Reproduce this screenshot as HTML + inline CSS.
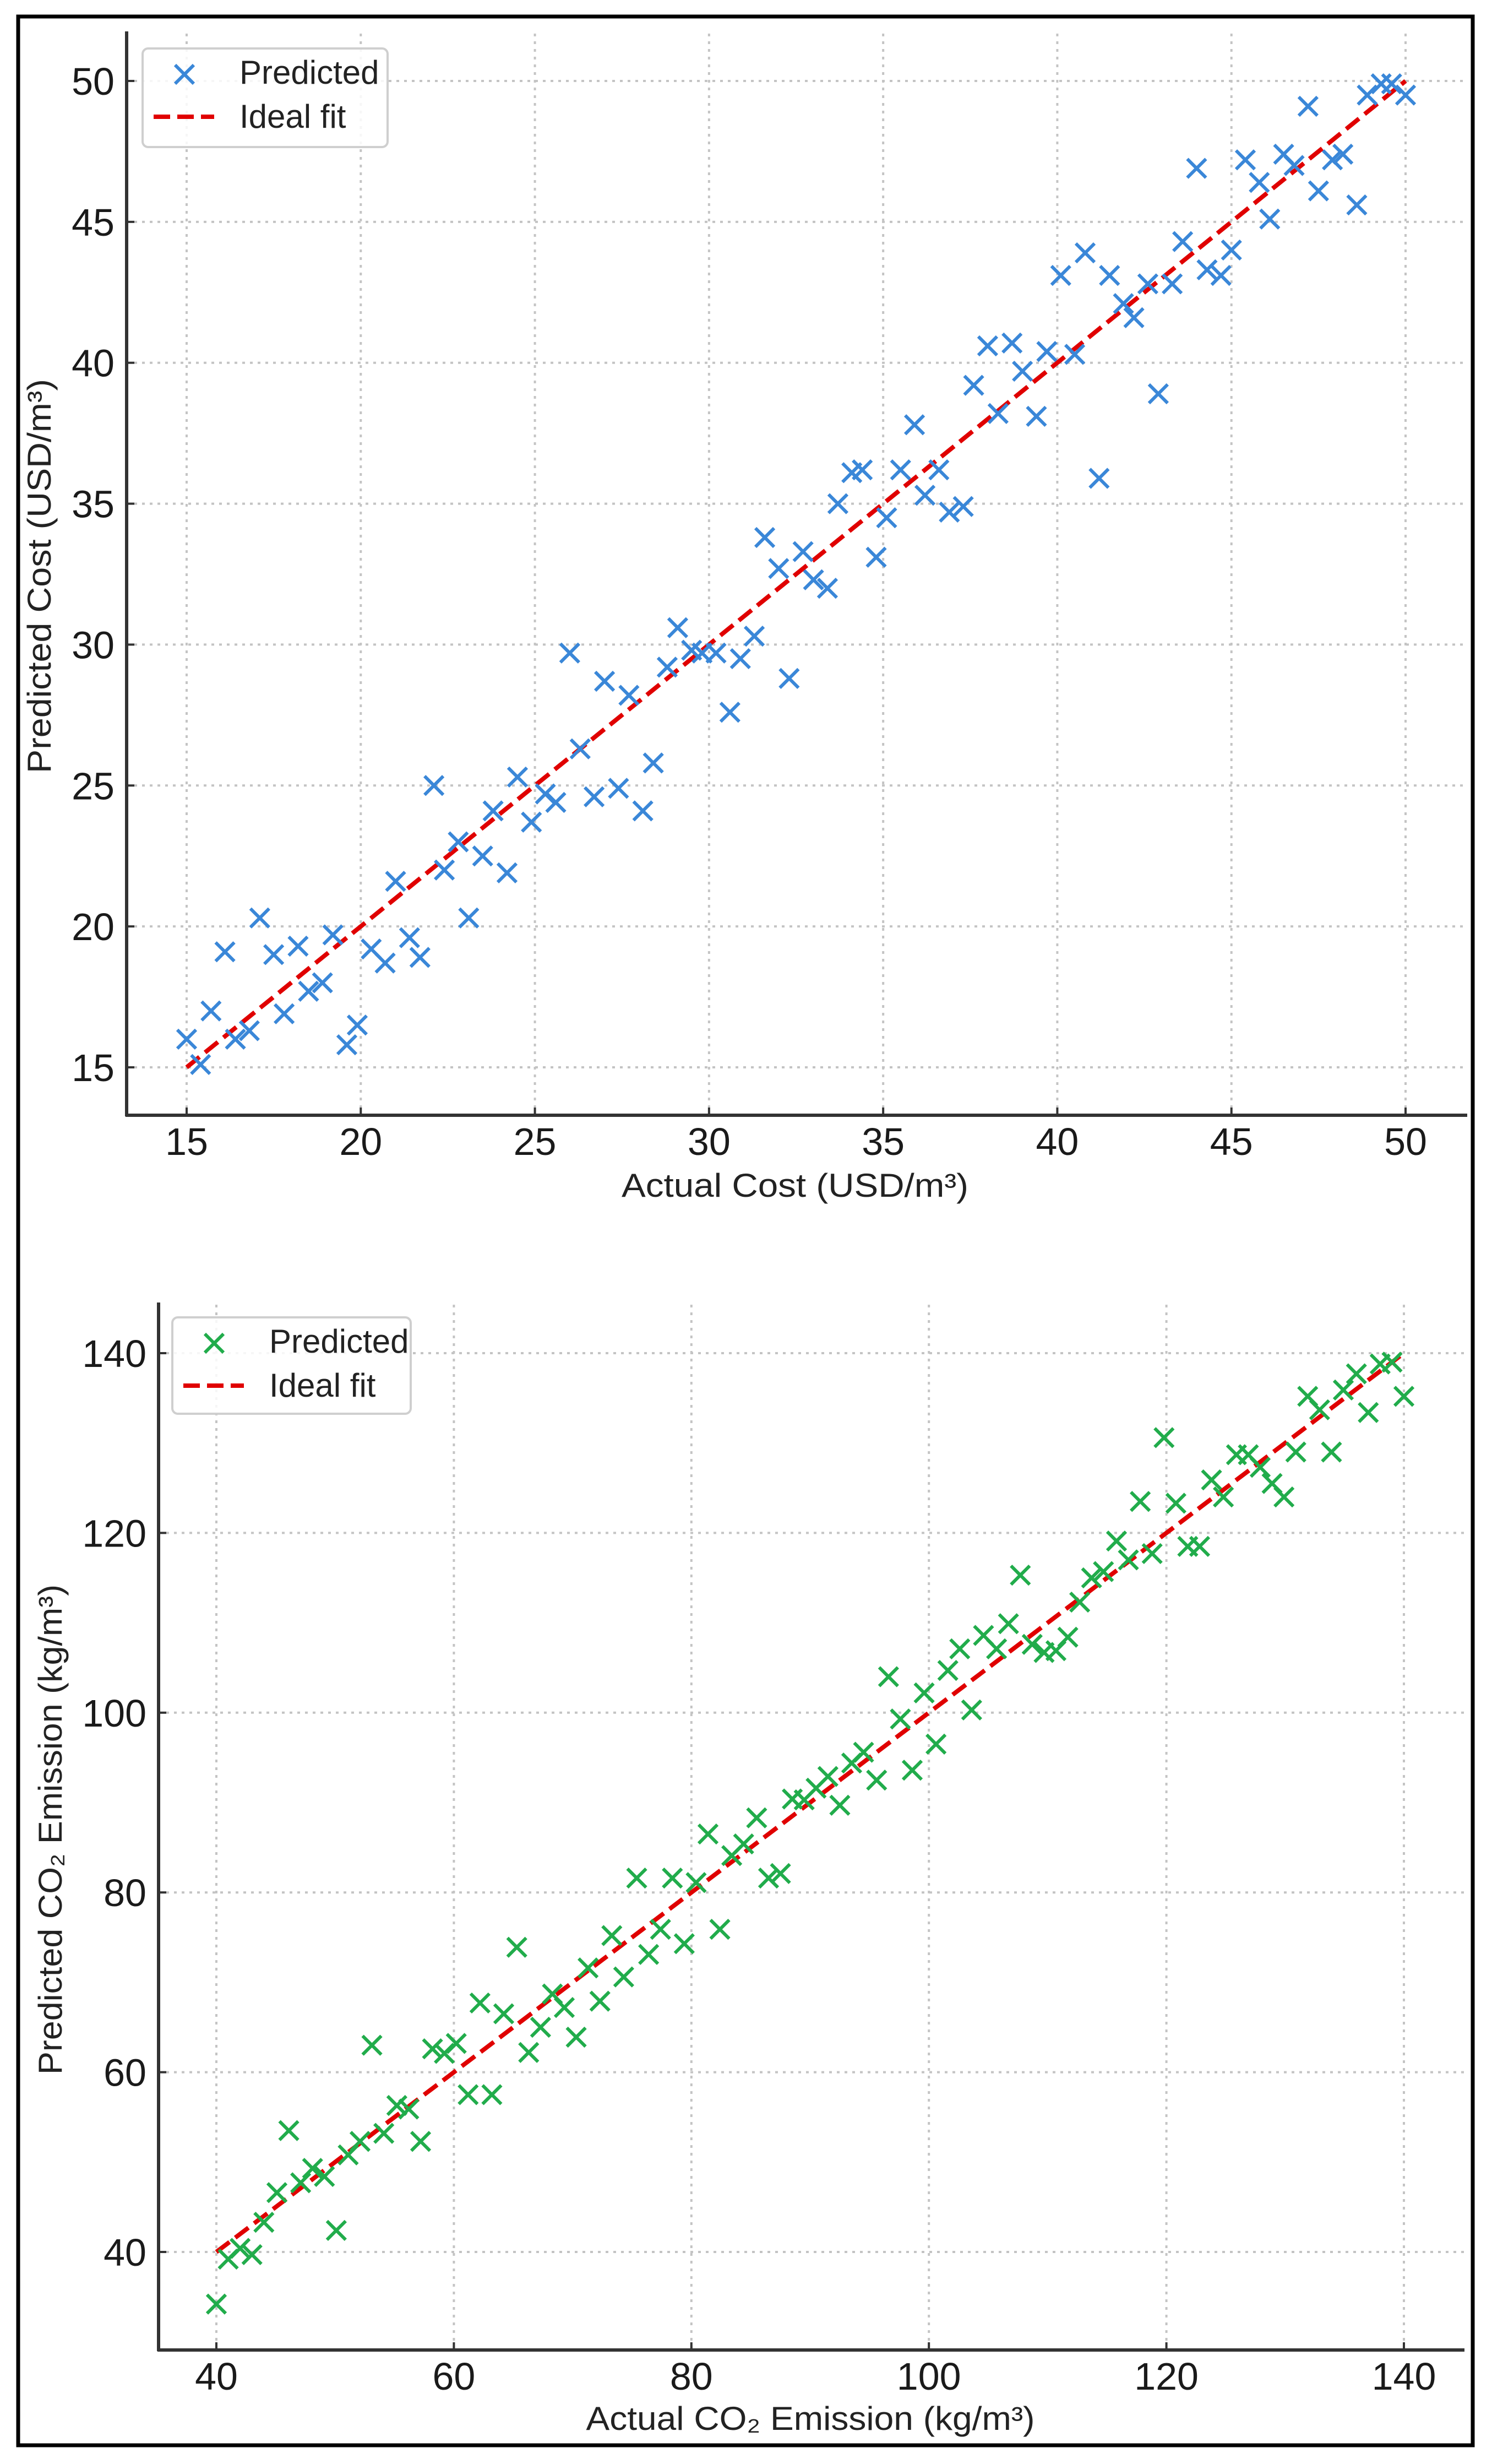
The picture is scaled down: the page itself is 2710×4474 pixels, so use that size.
<!DOCTYPE html>
<html><head><meta charset="utf-8"><title>Predicted vs Actual</title>
<style>html,body{margin:0;padding:0;background:#fff}svg{display:block}</style></head>
<body>
<svg id="fig" xmlns="http://www.w3.org/2000/svg" width="2710" height="4474" viewBox="0 0 2710 4474" font-family="Liberation Sans, DejaVu Sans, sans-serif">
<rect x="0" y="0" width="2710" height="4474" fill="#fff"/>
<rect x="33" y="30" width="2642" height="4410" fill="none" stroke="#000" stroke-width="7"/>
<g id="c1"></g>
<g id="c2"></g>
</svg>
<script>
const costX=[15.0,15.4,15.7,16.1,16.4,16.8,17.1,17.5,17.8,18.2,18.5,18.9,19.2,19.6,19.9,20.3,20.7,21.0,21.4,21.7,22.1,22.4,22.8,23.1,23.5,23.8,24.2,24.5,24.9,25.3,25.6,26.0,26.3,26.7,27.0,27.4,27.7,28.1,28.4,28.8,29.1,29.5,29.8,30.2,30.6,30.9,31.3,31.6,32.0,32.3,32.7,33.0,33.4,33.7,34.1,34.4,34.8,35.1,35.5,35.9,36.2,36.6,36.9,37.3,37.6,38.0,38.3,38.7,39.0,39.4,39.7,40.1,40.5,40.8,41.2,41.5,41.9,42.2,42.6,42.9,43.3,43.6,44.0,44.3,44.7,45.0,45.4,45.8,46.1,46.5,46.8,47.2,47.5,47.9,48.2,48.6,48.9,49.3,49.6,50.0];
const costPred=[16.0,15.1,17.0,19.1,16.0,16.3,20.3,19.0,16.9,19.3,17.7,18.0,19.7,15.8,16.5,19.2,18.7,21.6,19.6,18.9,25.0,22.0,23.0,20.3,22.5,24.1,21.9,25.3,23.7,24.7,24.4,29.7,26.3,24.6,28.7,24.9,28.2,24.1,25.8,29.2,30.6,29.8,29.7,29.7,27.6,29.5,30.3,33.8,32.7,28.8,33.3,32.3,32.0,35.0,36.1,36.2,33.1,34.5,36.2,37.8,35.3,36.2,34.7,34.9,39.2,40.6,38.2,40.7,39.7,38.1,40.4,43.1,40.3,43.9,35.9,43.1,42.1,41.6,42.8,38.9,42.8,44.3,46.9,43.3,43.1,44.0,47.2,46.4,45.1,47.4,47.0,49.1,46.1,47.2,47.4,45.6,49.5,49.9,49.9,49.5];
const costTicks=[15,20,25,30,35,40,45,50];
const co2X=[40.0,41.0,42.0,43.0,44.0,45.1,46.1,47.1,48.1,49.1,50.1,51.1,52.1,53.1,54.1,55.2,56.2,57.2,58.2,59.2,60.2,61.2,62.2,63.2,64.2,65.3,66.3,67.3,68.3,69.3,70.3,71.3,72.3,73.3,74.3,75.4,76.4,77.4,78.4,79.4,80.4,81.4,82.4,83.4,84.4,85.5,86.5,87.5,88.5,89.5,90.5,91.5,92.5,93.5,94.5,95.6,96.6,97.6,98.6,99.6,100.6,101.6,102.6,103.6,104.6,105.7,106.7,107.7,108.7,109.7,110.7,111.7,112.7,113.7,114.7,115.8,116.8,117.8,118.8,119.8,120.8,121.8,122.8,123.8,124.8,125.9,126.9,127.9,128.9,129.9,130.9,131.9,132.9,133.9,134.9,136.0,137.0,138.0,139.0,140.0];
const co2Pred=[34.2,39.2,40.4,39.7,43.3,46.6,53.5,47.7,49.3,48.4,42.4,50.8,52.3,63.0,53.2,56.3,55.9,52.3,62.6,62.1,63.2,57.5,67.7,57.5,66.5,73.9,62.2,65.0,68.7,67.2,63.9,71.6,67.9,75.2,70.6,81.6,73.1,75.9,81.6,74.3,81.1,86.5,75.9,84.1,85.4,88.3,81.6,82.1,90.4,90.3,91.6,92.9,89.7,94.4,95.6,92.5,104.0,99.3,93.6,102.2,96.5,104.7,107.1,100.3,108.6,107.1,109.9,115.3,107.6,106.7,106.9,108.4,112.3,115.0,115.7,119.1,117.0,123.5,117.7,130.6,123.3,118.5,118.5,125.9,124.0,128.7,128.7,127.3,125.5,124.0,129.0,135.2,133.7,129.0,135.9,137.7,133.4,138.8,139.0,135.2];
const co2Ticks=[40,60,80,100,120,140];

const NS='http://www.w3.org/2000/svg';
function mk(parent,tag,attrs,text){const e=document.createElementNS(NS,tag);for(const k in attrs)e.setAttribute(k,attrs[k]);if(text!==undefined)e.textContent=text;parent.appendChild(e);return e;}

function drawChart(g,cfg){
  const sx=v=>cfg.x0+(v-cfg.d0)*(cfg.x1-cfg.x0)/(cfg.d1-cfg.d0);
  const sy=v=>cfg.y0+(v-cfg.d0)*(cfg.y1-cfg.y0)/(cfg.d1-cfg.d0);
  cfg.ticks.forEach(t=>{
    const gv=mk(g,'line',{x1:sx(t),x2:sx(t),y1:cfg.top+4,y2:cfg.bottom,stroke:'#c4c4c4','stroke-width':4,'stroke-dasharray':'5 9'});
    
    
    const gh=mk(g,'line',{x1:cfg.left,x2:cfg.right,y1:sy(t),y2:sy(t),stroke:'#c4c4c4','stroke-width':4,'stroke-dasharray':'5 9'});
    
    
    const tx=mk(g,'line',{x1:sx(t),x2:sx(t),y1:cfg.bottom,y2:cfg.bottom-14,stroke:'#333','stroke-width':4});
    
    
    const ty=mk(g,'line',{x1:cfg.left,x2:cfg.left+14,y1:sy(t),y2:sy(t),stroke:'#333','stroke-width':4});
    
    
    const lx=mk(g,'text',{x:sx(t),y:cfg.bottom+72,'text-anchor':'middle','font-size':70,fill:'#1a1a1a'},String(t));
    
    
    const ly=mk(g,'text',{x:cfg.left-22,y:sy(t)+25,'text-anchor':'end','font-size':70,fill:'#1a1a1a'},String(t));
    
    
  });
  const sl=mk(g,'line',{x1:cfg.left,x2:cfg.left,y1:cfg.top,y2:cfg.bottom+2,stroke:'#333','stroke-width':6});
  
  
  const sb=mk(g,'line',{x1:cfg.left-2,x2:cfg.right,y1:cfg.bottom,y2:cfg.bottom,stroke:'#333','stroke-width':6});
  
  
  const fit=mk(g,'line',{x1:sx(cfg.d0),y1:sy(cfg.d0),x2:sx(cfg.d1),y2:sy(cfg.d1),stroke:'#e00000','stroke-width':8,'stroke-dasharray':'30 13'});
  
  
  const s=17;
  cfg.xs.forEach((xv,i)=>{
    const cx=sx(xv),cy=sy(cfg.ys[i]);
    const p=mk(g,'path',{d:`M${cx-s},${cy-s}L${cx+s},${cy+s}M${cx-s},${cy+s}L${cx+s},${cy-s}`,stroke:cfg.color,'stroke-width':6,fill:'none'});
    
    
  });
  const L=cfg.legend;
  const lb=mk(g,'rect',{x:L.x,y:L.y,width:L.w,height:L.h,rx:10,fill:'#fff','fill-opacity':0.85,stroke:'#cfcfcf','stroke-width':4});
  
  
  const mx=L.x+76,my=L.y+47;
  const lm=mk(g,'path',{d:`M${mx-s},${my-s}L${mx+s},${my+s}M${mx-s},${my+s}L${mx+s},${my-s}`,stroke:cfg.color,'stroke-width':6});
  
  
  const lt1=mk(g,'text',{x:L.x+176,y:L.y+64,'font-size':60,fill:'#222'},'Predicted');
  
  
  const ll=mk(g,'line',{x1:L.x+20,x2:L.x+130,y1:L.y+124,y2:L.y+124,stroke:'#e00000','stroke-width':8,'stroke-dasharray':'30 13'});
  
  
  const lt2=mk(g,'text',{x:L.x+176,y:L.y+144,'font-size':60,fill:'#222'},'Ideal fit');
  
  
  const xl=mk(g,'text',{x:cfg.xlab.x,y:cfg.xlab.y,'text-anchor':'middle','font-size':60,fill:'#222',textLength:cfg.xlab.len,lengthAdjust:'spacingAndGlyphs'},cfg.xlab.t);
  
  
  const yl=mk(g,'text',{x:0,y:0,'text-anchor':'middle','font-size':60,fill:'#222',textLength:cfg.ylab.len,lengthAdjust:'spacingAndGlyphs',transform:`translate(${cfg.ylab.x},${cfg.ylab.y}) rotate(-90)`},cfg.ylab.t);
  
  
}

drawChart(document.getElementById('c1'),{
  d0:15,d1:50,x0:339,x1:2553,y0:1938,y1:147,
  left:230,right:2665,top:57,bottom:2025,
  ticks:costTicks,xs:costX,ys:costPred,color:'#3a87d8',
  legend:{x:259,y:88,w:445,h:179},
  xlab:{x:1444,y:2173,t:'Actual Cost (USD/m³)',len:630},
  ylab:{x:92,y:1046,t:'Predicted Cost (USD/m³)',len:716}
});
drawChart(document.getElementById('c2'),{
  d0:40,d1:140,x0:393,x1:2550,y0:4089,y1:2457,
  left:288,right:2660,top:2365,bottom:4267,
  ticks:co2Ticks,xs:co2X,ys:co2Pred,color:'#21ac4b',
  legend:{x:313,y:2392,w:433,h:175},
  xlab:{x:1472,y:4412,t:'Actual CO₂ Emission (kg/m³)',len:815},
  ylab:{x:112,y:3322,t:'Predicted CO₂ Emission (kg/m³)',len:890}
});
</script>
</body></html>
